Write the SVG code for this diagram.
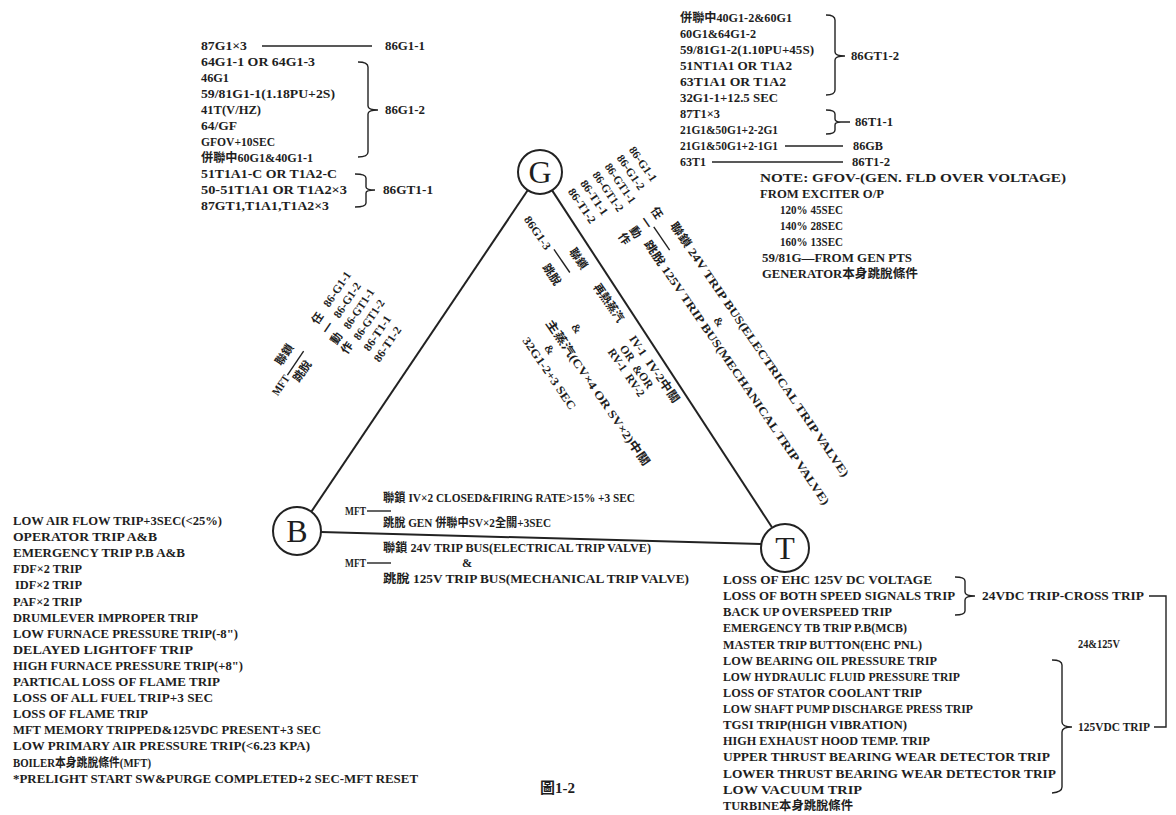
<svg xmlns="http://www.w3.org/2000/svg" width="1176" height="815" viewBox="0 0 1176 815">
<style>
.t{font-family:"Liberation Serif","Noto Sans CJK TC",serif;font-weight:bold;font-size:12.2px;fill:#1e1e1e}
.r{font-family:"Liberation Serif","Noto Sans CJK TC",serif;font-weight:bold;font-size:11.5px;fill:#1e1e1e}
.m{text-anchor:middle}
.ln{stroke:#222;stroke-width:1.4;fill:none}
.edge{stroke:#222;stroke-width:2;fill:none}
.node circle{fill:#fff;stroke:#222;stroke-width:2}
.node text{font-family:"Liberation Serif",serif;font-size:32px;text-anchor:middle;fill:#1e1e1e}
</style>
<rect width="1176" height="815" fill="#fff"/>

<g id="connectors">
<line class="edge" x1="527.7" y1="190.3" x2="310.4" y2="513.1"/>
<line class="edge" x1="552.1" y1="190.4" x2="771.8" y2="527"/>
<line class="edge" x1="321" y1="532" x2="761" y2="544"/>
</g>

<g id="node-G" class="node"><circle cx="540" cy="172" r="22"/><text x="540" y="183">G</text></g>
<g id="node-B" class="node"><circle cx="297" cy="531" r="24"/><text x="297" y="542">B</text></g>
<g id="node-T" class="node"><circle cx="785" cy="548" r="24"/><text x="785" y="559">T</text></g>

<!-- top-left block -->
<g id="gen-left">
<text class="t" x="201" y="50" textLength="46" lengthAdjust="spacingAndGlyphs">87G1×3</text>
<line class="ln" x1="262" y1="46" x2="372" y2="46"/>
<text class="t" x="385" y="50" textLength="40" lengthAdjust="spacingAndGlyphs">86G1-1</text>
<text class="t" x="201" y="66" textLength="114" lengthAdjust="spacingAndGlyphs">64G1-1 OR 64G1-3</text>
<text class="t" x="201" y="82" textLength="28" lengthAdjust="spacingAndGlyphs">46G1</text>
<text class="t" x="201" y="98" textLength="134" lengthAdjust="spacingAndGlyphs">59/81G1-1(1.18PU+2S)</text>
<text class="t" x="201" y="114" textLength="60" lengthAdjust="spacingAndGlyphs">41T(V/HZ)</text>
<text class="t" x="201" y="130" textLength="36" lengthAdjust="spacingAndGlyphs">64/GF</text>
<text class="t" x="201" y="146" textLength="74" lengthAdjust="spacingAndGlyphs">GFOV+10SEC</text>
<text class="t" x="201" y="162" textLength="112" lengthAdjust="spacingAndGlyphs">併聯中60G1&amp;40G1-1</text>
<text class="t" x="201" y="178" textLength="136" lengthAdjust="spacingAndGlyphs">51T1A1-C OR T1A2-C</text>
<text class="t" x="201" y="194" textLength="146" lengthAdjust="spacingAndGlyphs">50-51T1A1 OR T1A2×3</text>
<text class="t" x="201" y="210" textLength="128" lengthAdjust="spacingAndGlyphs">87GT1,T1A1,T1A2×3</text>
<path class="ln" d="M358,62 Q368,62 368,67 L368,106 Q368,110 378,110 Q368,110 368,114 L368,152 Q368,157 358,157"/>
<text class="t" x="385" y="114" textLength="40" lengthAdjust="spacingAndGlyphs">86G1-2</text>
<path class="ln" d="M355,174 Q366,174 366,178 L366,187 Q366,190 375,190 Q366,190 366,193 L366,203 Q366,207 355,207"/>
<text class="t" x="383" y="194" textLength="50" lengthAdjust="spacingAndGlyphs">86GT1-1</text>
</g>

<!-- top-right block -->
<g id="gen-right">
<text class="t" x="680" y="22" textLength="112" lengthAdjust="spacingAndGlyphs">併聯中40G1-2&amp;60G1</text>
<text class="t" x="680" y="38" textLength="76" lengthAdjust="spacingAndGlyphs">60G1&amp;64G1-2</text>
<text class="t" x="680" y="54" textLength="134" lengthAdjust="spacingAndGlyphs">59/81G1-2(1.10PU+45S)</text>
<text class="t" x="680" y="70" textLength="112" lengthAdjust="spacingAndGlyphs">51NT1A1 OR T1A2</text>
<text class="t" x="680" y="86" textLength="106" lengthAdjust="spacingAndGlyphs">63T1A1 OR T1A2</text>
<text class="t" x="680" y="102" textLength="98" lengthAdjust="spacingAndGlyphs">32G1-1+12.5 SEC</text>
<path class="ln" d="M826,15 Q835,15 835,20 L835,52 Q835,56 845,56 Q835,56 835,60 L835,90 Q835,95 826,95"/>
<text class="t" x="851" y="60" textLength="48" lengthAdjust="spacingAndGlyphs">86GT1-2</text>
<text class="t" x="680" y="118" textLength="40" lengthAdjust="spacingAndGlyphs">87T1×3</text>
<text class="t" x="680" y="134" textLength="98" lengthAdjust="spacingAndGlyphs">21G1&amp;50G1+2-2G1</text>
<path class="ln" d="M826,110 Q835,110 835,114 L835,119 Q835,122 841,122 L850,122 M841,122 Q835,122 835,125 L835,130 Q835,134 826,134"/>
<text class="t" x="855" y="126" textLength="38" lengthAdjust="spacingAndGlyphs">86T1-1</text>
<text class="t" x="680" y="150" textLength="98" lengthAdjust="spacingAndGlyphs">21G1&amp;50G1+2-1G1</text>
<line class="ln" x1="785" y1="146" x2="843" y2="146"/>
<text class="t" x="853" y="150" textLength="30" lengthAdjust="spacingAndGlyphs">86GB</text>
<text class="t" x="680" y="166" textLength="26" lengthAdjust="spacingAndGlyphs">63T1</text>
<line class="ln" x1="712" y1="162" x2="843" y2="162"/>
<text class="t" x="852" y="166" textLength="38" lengthAdjust="spacingAndGlyphs">86T1-2</text>
<text class="t" x="760" y="182" textLength="306" lengthAdjust="spacingAndGlyphs">NOTE: GFOV-(GEN. FLD OVER VOLTAGE)</text>
<text class="t" x="760" y="198" textLength="124" lengthAdjust="spacingAndGlyphs">FROM EXCITER O/P</text>
<text class="t" x="780" y="214" textLength="63" lengthAdjust="spacingAndGlyphs">120% 45SEC</text>
<text class="t" x="780" y="230" textLength="63" lengthAdjust="spacingAndGlyphs">140% 28SEC</text>
<text class="t" x="780" y="246" textLength="63" lengthAdjust="spacingAndGlyphs">160% 13SEC</text>
<text class="t" x="762" y="262" textLength="150" lengthAdjust="spacingAndGlyphs">59/81G—FROM GEN PTS</text>
<text class="t" x="762" y="278" textLength="156" lengthAdjust="spacingAndGlyphs">GENERATOR本身跳脫條件</text>
</g>

<!-- G-B side (left) rotated labels -->
<g id="label-GB" transform="translate(419,351.7) rotate(-56)">
<text class="r" x="-14" y="-99" textLength="40" lengthAdjust="spacingAndGlyphs">86-G1-1</text>
<text class="r" x="-17.5" y="-84.5" textLength="40" lengthAdjust="spacingAndGlyphs">86-G1-2</text>
<text class="r" x="-21" y="-70" textLength="46" lengthAdjust="spacingAndGlyphs">86-GT1-1</text>
<text class="r" x="-24.5" y="-55.5" textLength="46" lengthAdjust="spacingAndGlyphs">86-GT1-2</text>
<text class="r" x="-28" y="-41" textLength="40" lengthAdjust="spacingAndGlyphs">86-T1-1</text>
<text class="r" x="-31.5" y="-26.5" textLength="40" lengthAdjust="spacingAndGlyphs">86-T1-2</text>
<text class="r m" x="-29" y="-99">任</text>
<text class="r m" x="-31" y="-85">一</text>
<text class="r m" x="-35" y="-72">動</text>
<text class="r m" x="-37" y="-58">作</text>
<text class="r" x="-89" y="-106">聯鎖</text>
<line class="ln" x1="-93" y1="-96" x2="-64" y2="-96"/>
<text class="r" x="-93" y="-82">跳脫</text>
<text class="r" x="-116" y="-92" textLength="22" lengthAdjust="spacingAndGlyphs">MFT</text>
</g>

<!-- G-T side (outer) rotated labels -->
<g id="label-GT" transform="translate(662,357.2) rotate(55.5)">
<text class="r" x="-190" y="-90" textLength="40" lengthAdjust="spacingAndGlyphs">86-G1-1</text>
<text class="r" x="-190" y="-75.2" textLength="40" lengthAdjust="spacingAndGlyphs">86-G1-2</text>
<text class="r" x="-190" y="-60.4" textLength="46" lengthAdjust="spacingAndGlyphs">86-GT1-1</text>
<text class="r" x="-190" y="-45.6" textLength="46" lengthAdjust="spacingAndGlyphs">86-GT1-2</text>
<text class="r" x="-190" y="-30.8" textLength="40" lengthAdjust="spacingAndGlyphs">86-T1-1</text>
<text class="r" x="-190" y="-16" textLength="40" lengthAdjust="spacingAndGlyphs">86-T1-2</text>
<text class="r m" x="-122" y="-73.6">任</text>
<text class="r m" x="-120" y="-59">一</text>
<text class="r m" x="-118" y="-45">動</text>
<text class="r m" x="-119" y="-32">作</text>
<line class="ln" x1="-112" y1="-67" x2="-84" y2="-67"/>
<text class="r" x="-104" y="-81" textLength="306" lengthAdjust="spacingAndGlyphs">聯鎖 24V TRIP BUS(ELECTRICAL TRIP VALVE)</text>
<text class="r m" x="3" y="-63">&amp;</text>
<text class="r" x="-104" y="-49" textLength="318" lengthAdjust="spacingAndGlyphs">跳脫 125V TRIP BUS(MECHANICAL TRIP VALVE)</text>
</g>

<!-- G-T side (inner) rotated labels -->
<g id="label-GT-inner" transform="translate(662,357.2) rotate(55.5)">
<text class="r" x="-192" y="36" textLength="38" lengthAdjust="spacingAndGlyphs">86G1-3</text>
<line class="ln" x1="-150" y1="28" x2="-122" y2="28"/>
<text class="r" x="-140" y="17">聯鎖</text>
<text class="r" x="-142" y="48">跳脫</text>
<text class="r" x="-97" y="17" textLength="44" lengthAdjust="spacingAndGlyphs">再熱蒸汽</text>
<text class="r" x="-34" y="17" textLength="22" lengthAdjust="spacingAndGlyphs">IV-1</text>
<text class="r" x="-5" y="17" textLength="50" lengthAdjust="spacingAndGlyphs">IV-2中關</text>
<text class="r m" x="-23" y="30">OR</text>
<text class="r m" x="-3" y="31">&amp;</text>
<text class="r m" x="10" y="30">OR</text>
<text class="r m" x="-23" y="42">RV-1</text>
<text class="r m" x="8" y="42">RV-2</text>
<text class="r m" x="-72" y="58">&amp;</text>
<text class="r" x="-94" y="77" textLength="174" lengthAdjust="spacingAndGlyphs">主蒸汽(CV×4 OR SV×2)中關</text>
<text class="r m" x="-70" y="92">&amp;</text>
<text class="r" x="-93" y="106" textLength="85" lengthAdjust="spacingAndGlyphs">32G1-2+3 SEC</text>
</g>

<!-- B-T side labels -->
<g id="label-BT">
<text class="t" x="383" y="502" textLength="252" lengthAdjust="spacingAndGlyphs">聯鎖 IV×2 CLOSED&amp;FIRING RATE&gt;15% +3 SEC</text>
<text class="t" x="345" y="515" textLength="21" lengthAdjust="spacingAndGlyphs">MFT</text>
<line class="ln" x1="367" y1="511" x2="391" y2="511"/>
<text class="t" x="383" y="527" textLength="168" lengthAdjust="spacingAndGlyphs">跳脫 GEN 併聯中SV×2全關+3SEC</text>
<text class="t" x="383" y="552" textLength="268" lengthAdjust="spacingAndGlyphs">聯鎖 24V TRIP BUS(ELECTRICAL TRIP VALVE)</text>
<text class="t" x="345" y="567" textLength="21" lengthAdjust="spacingAndGlyphs">MFT</text>
<line class="ln" x1="367" y1="563" x2="391" y2="563"/>
<text class="t" x="462" y="567">&amp;</text>
<text class="t" x="383" y="583" textLength="306" lengthAdjust="spacingAndGlyphs">跳脫 125V TRIP BUS(MECHANICAL TRIP VALVE)</text>
</g>

<!-- boiler list -->
<g id="boiler-list">
<text class="t" x="13" y="525" textLength="209" lengthAdjust="spacingAndGlyphs">LOW AIR FLOW TRIP+3SEC(&lt;25%)</text>
<text class="t" x="13" y="541" textLength="144" lengthAdjust="spacingAndGlyphs">OPERATOR TRIP A&amp;B</text>
<text class="t" x="13" y="557" textLength="172" lengthAdjust="spacingAndGlyphs">EMERGENCY TRIP P.B A&amp;B</text>
<text class="t" x="13" y="573" textLength="69" lengthAdjust="spacingAndGlyphs">FDF×2 TRIP</text>
<text class="t" x="15" y="589" textLength="67" lengthAdjust="spacingAndGlyphs">IDF×2 TRIP</text>
<text class="t" x="13" y="606" textLength="69" lengthAdjust="spacingAndGlyphs">PAF×2 TRIP</text>
<text class="t" x="13" y="622" textLength="185" lengthAdjust="spacingAndGlyphs">DRUMLEVER IMPROPER TRIP</text>
<text class="t" x="13" y="638" textLength="225" lengthAdjust="spacingAndGlyphs">LOW FURNACE PRESSURE TRIP(-8")</text>
<text class="t" x="13" y="654" textLength="180" lengthAdjust="spacingAndGlyphs">DELAYED LIGHTOFF TRIP</text>
<text class="t" x="13" y="670" textLength="230" lengthAdjust="spacingAndGlyphs">HIGH FURNACE PRESSURE TRIP(+8")</text>
<text class="t" x="13" y="686" textLength="207" lengthAdjust="spacingAndGlyphs">PARTICAL LOSS OF FLAME TRIP</text>
<text class="t" x="13" y="702" textLength="200" lengthAdjust="spacingAndGlyphs">LOSS OF ALL FUEL TRIP+3 SEC</text>
<text class="t" x="13" y="718" textLength="135" lengthAdjust="spacingAndGlyphs">LOSS OF FLAME TRIP</text>
<text class="t" x="13" y="734" textLength="308" lengthAdjust="spacingAndGlyphs">MFT MEMORY TRIPPED&amp;125VDC PRESENT+3 SEC</text>
<text class="t" x="13" y="750" textLength="297" lengthAdjust="spacingAndGlyphs">LOW PRIMARY AIR PRESSURE TRIP(&lt;6.23 KPA)</text>
<text class="t" x="13" y="767" textLength="138" lengthAdjust="spacingAndGlyphs">BOILER本身跳脫條件(MFT)</text>
<text class="t" x="13" y="783" textLength="405" lengthAdjust="spacingAndGlyphs">*PRELIGHT START SW&amp;PURGE COMPLETED+2 SEC-MFT RESET</text>
</g>

<!-- turbine list -->
<g id="turbine-list">
<text class="t" x="723" y="584" textLength="209" lengthAdjust="spacingAndGlyphs">LOSS OF EHC 125V DC VOLTAGE</text>
<text class="t" x="723" y="600" textLength="232" lengthAdjust="spacingAndGlyphs">LOSS OF BOTH SPEED SIGNALS TRIP</text>
<text class="t" x="723" y="616" textLength="169" lengthAdjust="spacingAndGlyphs">BACK UP OVERSPEED TRIP</text>
<text class="t" x="723" y="632" textLength="184" lengthAdjust="spacingAndGlyphs">EMERGENCY TB TRIP P.B(MCB)</text>
<text class="t" x="723" y="649" textLength="199" lengthAdjust="spacingAndGlyphs">MASTER TRIP BUTTON(EHC PNL)</text>
<text class="t" x="723" y="665" textLength="214" lengthAdjust="spacingAndGlyphs">LOW BEARING OIL PRESSURE TRIP</text>
<text class="t" x="723" y="681" textLength="237" lengthAdjust="spacingAndGlyphs">LOW HYDRAULIC FLUID PRESSURE TRIP</text>
<text class="t" x="723" y="697" textLength="199" lengthAdjust="spacingAndGlyphs">LOSS OF STATOR COOLANT TRIP</text>
<text class="t" x="723" y="713" textLength="250" lengthAdjust="spacingAndGlyphs">LOW SHAFT PUMP DISCHARGE PRESS TRIP</text>
<text class="t" x="723" y="729" textLength="184" lengthAdjust="spacingAndGlyphs">TGSI TRIP(HIGH VIBRATION)</text>
<text class="t" x="723" y="745" textLength="207" lengthAdjust="spacingAndGlyphs">HIGH EXHAUST HOOD TEMP. TRIP</text>
<text class="t" x="723" y="761" textLength="327" lengthAdjust="spacingAndGlyphs">UPPER THRUST BEARING WEAR DETECTOR TRIP</text>
<text class="t" x="723" y="778" textLength="333" lengthAdjust="spacingAndGlyphs">LOWER THRUST BEARING WEAR DETECTOR TRIP</text>
<text class="t" x="723" y="794" textLength="139" lengthAdjust="spacingAndGlyphs">LOW VACUUM TRIP</text>
<text class="t" x="723" y="810" textLength="130" lengthAdjust="spacingAndGlyphs">TURBINE本身跳脫條件</text>
<path class="ln" d="M955,577 Q965,577 965,581 L965,592 Q965,596 975,596 Q965,596 965,600 L965,611 Q965,615 955,615"/>
<text class="t" x="982" y="600" textLength="162" lengthAdjust="spacingAndGlyphs">24VDC TRIP-CROSS TRIP</text>
<path class="ln" d="M1149,596 L1166,596 L1166,727 L1154,727"/>
<text class="t" x="1078" y="648" textLength="42" lengthAdjust="spacingAndGlyphs">24&amp;125V</text>
<path class="ln" d="M1052,660 Q1062,660 1062,665 L1062,722 Q1062,727 1072,727 Q1062,727 1062,732 L1062,787 Q1062,792 1052,793"/>
<text class="t" x="1078" y="731" textLength="72" lengthAdjust="spacingAndGlyphs">125VDC TRIP</text>
</g>

<text class="t" x="540" y="793" style="font-size:15px">圖1-2</text>
</svg>
